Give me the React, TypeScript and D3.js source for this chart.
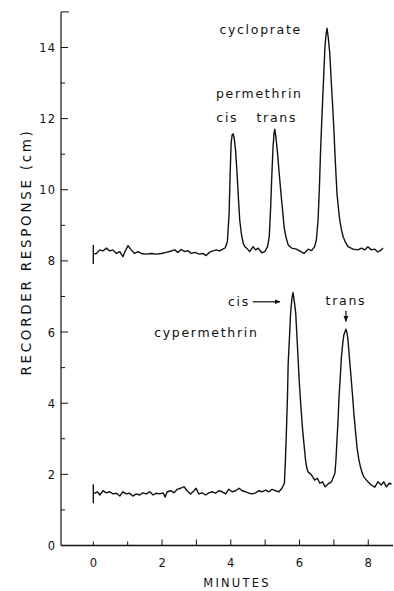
import React from 'react'
import { scaleLinear, line, curveLinear } from 'd3'

// minutes, recorder response (cm)
const topTrace: [number, number][] = [
  [0, 8.45], [0, 7.93], [0, 8.2], [0.09, 8.21], [0.19, 8.31], [0.28, 8.28], [0.38, 8.36],
  [0.48, 8.28], [0.57, 8.31], [0.67, 8.21], [0.77, 8.26], [0.86, 8.12], [0.93, 8.28],
  [1.01, 8.43], [1.1, 8.31], [1.2, 8.21], [1.3, 8.26], [1.4, 8.21], [1.54, 8.19],
  [1.69, 8.21], [1.83, 8.19], [1.98, 8.21], [2.12, 8.24], [2.27, 8.28], [2.37, 8.31],
  [2.46, 8.24], [2.56, 8.32], [2.66, 8.26], [2.75, 8.29], [2.85, 8.21], [2.95, 8.24],
  [3.09, 8.19], [3.19, 8.21], [3.28, 8.15], [3.38, 8.24], [3.48, 8.28], [3.58, 8.31],
  [3.67, 8.28], [3.77, 8.33], [3.84, 8.37], [3.9, 8.54], [3.95, 9.3], [3.98, 10.4],
  [4.01, 11.3], [4.04, 11.55], [4.07, 11.57], [4.1, 11.45], [4.14, 11.1], [4.18, 10.5],
  [4.22, 9.8], [4.26, 9.15], [4.31, 8.75], [4.36, 8.5], [4.41, 8.4], [4.46, 8.36],
  [4.55, 8.26], [4.65, 8.4], [4.72, 8.31], [4.8, 8.36], [4.9, 8.23], [4.99, 8.26],
  [5.07, 8.4], [5.12, 8.68], [5.16, 9.5], [5.19, 10.3], [5.23, 11.2], [5.26, 11.6],
  [5.28, 11.7], [5.31, 11.5], [5.36, 11.03], [5.41, 10.45], [5.46, 9.9], [5.51, 9.4],
  [5.55, 8.96], [5.61, 8.65], [5.67, 8.45], [5.77, 8.36], [5.91, 8.33], [6.04, 8.26],
  [6.13, 8.21], [6.25, 8.33], [6.35, 8.29], [6.44, 8.4], [6.49, 8.59], [6.54, 9.15],
  [6.58, 10.1], [6.61, 11.03], [6.65, 12.0], [6.69, 12.9], [6.74, 14.02], [6.77, 14.35],
  [6.8, 14.54], [6.84, 14.25], [6.88, 13.84], [6.92, 13.1], [6.96, 12.43], [7.0, 11.7],
  [7.03, 11.03], [7.06, 10.45], [7.09, 9.9], [7.13, 9.5], [7.17, 9.15], [7.22, 8.88],
  [7.27, 8.68], [7.34, 8.52], [7.41, 8.4], [7.56, 8.33], [7.7, 8.31], [7.8, 8.36],
  [7.9, 8.31], [7.99, 8.4], [8.09, 8.31], [8.19, 8.33], [8.28, 8.25], [8.38, 8.31],
  [8.43, 8.36],
]

const bottomTrace: [number, number][] = [
  [0, 1.72], [0, 1.2], [0, 1.45], [0.04, 1.47], [0.12, 1.51], [0.19, 1.42], [0.28, 1.54],
  [0.38, 1.48], [0.48, 1.51], [0.57, 1.45], [0.67, 1.47], [0.77, 1.39], [0.86, 1.51],
  [0.96, 1.45], [1.06, 1.47], [1.15, 1.39], [1.25, 1.45], [1.35, 1.42], [1.44, 1.48],
  [1.54, 1.45], [1.64, 1.51], [1.74, 1.42], [1.83, 1.47], [1.93, 1.45], [2.03, 1.48],
  [2.09, 1.36], [2.15, 1.51], [2.25, 1.54], [2.35, 1.48], [2.44, 1.58], [2.54, 1.61],
  [2.64, 1.65], [2.73, 1.54], [2.83, 1.45], [2.93, 1.54], [2.99, 1.61], [3.07, 1.45],
  [3.17, 1.48], [3.27, 1.42], [3.36, 1.48], [3.46, 1.51], [3.56, 1.47], [3.65, 1.54],
  [3.75, 1.51], [3.85, 1.45], [3.94, 1.58], [4.04, 1.51], [4.14, 1.54], [4.24, 1.61],
  [4.33, 1.54], [4.43, 1.51], [4.53, 1.47], [4.62, 1.45], [4.72, 1.48], [4.82, 1.54],
  [4.91, 1.51], [5.01, 1.56], [5.11, 1.51], [5.2, 1.58], [5.3, 1.54], [5.4, 1.51],
  [5.49, 1.61], [5.56, 1.75], [5.59, 2.4], [5.62, 3.25], [5.65, 4.2], [5.67, 5.12],
  [5.71, 5.9], [5.74, 6.53], [5.78, 6.95], [5.81, 7.11], [5.85, 6.85], [5.89, 6.53],
  [5.94, 5.6], [5.99, 4.65], [6.04, 3.9], [6.09, 3.25], [6.14, 2.75], [6.18, 2.36],
  [6.22, 2.15], [6.25, 2.07], [6.35, 1.98], [6.44, 1.84], [6.52, 1.89], [6.59, 1.75],
  [6.67, 1.79], [6.74, 1.65], [6.83, 1.73], [6.93, 1.79], [7.03, 2.03], [7.06, 2.4],
  [7.08, 2.78], [7.12, 3.5], [7.15, 4.18], [7.19, 4.8], [7.22, 5.31], [7.26, 5.7],
  [7.29, 5.92], [7.35, 6.08], [7.38, 5.98], [7.41, 5.78], [7.45, 5.3], [7.49, 4.84],
  [7.54, 4.25], [7.58, 3.72], [7.63, 3.2], [7.67, 2.78], [7.72, 2.45], [7.77, 2.22],
  [7.82, 2.05], [7.87, 1.93], [7.99, 1.79], [8.09, 1.7], [8.19, 1.64], [8.28, 1.79],
  [8.38, 1.7], [8.45, 1.79], [8.53, 1.65], [8.61, 1.75], [8.68, 1.73],
]

const xTicks = [0, 1, 2, 3, 4, 5, 6, 7, 8]
const xTickLabels = ['0', '2', '4', '6', '8']
const yMajorTicks = [0, 2, 4, 6, 8, 10, 12, 14]
const yMinorTicks = [1, 3, 5, 7, 9, 11, 13, 15]

// peak labels: [text, minutes, cm, anchor]
const peakLabels: [string, number, number, string][] = [
  ['cycloprate', 4.87, 14.38, 'middle'],
  ['permethrin', 4.83, 12.58, 'middle'],
  ['cis', 3.9, 11.91, 'middle'],
  ['trans', 5.34, 11.91, 'middle'],
  ['cis', 4.56, 6.73, 'end'],
  ['trans', 7.35, 6.76, 'middle'],
  ['cypermethrin', 3.29, 5.86, 'middle'],
]

const W = 394
const H = 591
const font = '"DejaVu Sans", sans-serif'

export default function App() {
  const x = scaleLinear().domain([-0.94, 8.72]).range([61, 393])
  const y = scaleLinear().domain([0, 15]).range([545.5, 11.9])

  const trace = line<[number, number]>()
    .x(d => x(d[0]))
    .y(d => y(d[1]))
    .curve(curveLinear)

  const ink = '#111'

  return (
    <svg width={W} height={H} style={{ position: 'absolute', left: 0, top: 0, background: '#fff' }}>
      <defs>
        <marker id="head" viewBox="0 0 10 10" refX="9" refY="5" markerWidth="5" markerHeight="5" orient="auto">
          <path d="M0,1 L10,5 L0,9 z" fill={ink} />
        </marker>
      </defs>

      {/* axes */}
      <line x1={x(-0.94)} x2={x(8.72)} y1={y(0)} y2={y(0)} stroke={ink} strokeWidth={1.3} />
      <line x1={x(-0.94)} x2={x(-0.94)} y1={y(0)} y2={y(15)} stroke={ink} strokeWidth={1.2} />

      {xTicks.map(t => (
        <line key={'xt' + t} x1={x(t)} x2={x(t)} y1={y(0)} y2={y(0) - (t < 2 ? 4 : 6)} stroke={ink} strokeWidth={1} />
      ))}
      {xTickLabels.map(l => (
        <text key={'xl' + l} x={x(+l)} y={567} textAnchor="middle" fontFamily={font} fontSize={11.5} fill={ink}>{l}</text>
      ))}

      {yMajorTicks.map(v => (
        <line key={'ym' + v} x1={x(-0.94)} x2={x(-0.94) + 7} y1={y(v)} y2={y(v)} stroke={ink} strokeWidth={1} />
      ))}
      {yMinorTicks.map(v => (
        <line key={'yn' + v} x1={x(-0.94)} x2={x(-0.94) + (v === 15 ? 8 : 4)} y1={y(v)} y2={y(v)} stroke={ink} strokeWidth={1} />
      ))}
      {yMajorTicks.map(v => (
        <text key={'yl' + v} x={56} y={y(v) + 4.5} textAnchor="end" fontFamily={font} fontSize={11.5} letterSpacing={1} fill={ink}>{v}</text>
      ))}

      <text x={237} y={587} textAnchor="middle" fontFamily={font} fontSize={11.5} letterSpacing={2.2} fill={ink}>MINUTES</text>
      <text transform="translate(31,252) rotate(-90)" textAnchor="middle" fontFamily={font} fontSize={13.5} letterSpacing={2.7} fill={ink}>
        RECORDER RESPONSE (cm)
      </text>

      {/* chromatogram traces */}
      <path d={trace(topTrace) || ''} fill="none" stroke={ink} strokeWidth={1.4} strokeLinejoin="round" />
      <path d={trace(bottomTrace) || ''} fill="none" stroke={ink} strokeWidth={1.4} strokeLinejoin="round" />

      {peakLabels.map(([t, m, v, a], i) => (
        <text key={'pl' + i} x={x(m)} y={y(v)} textAnchor={a} fontFamily={font} fontSize={12.5} letterSpacing={1.7} fill={ink}>{t}</text>
      ))}

      {/* arrows pointing at the cypermethrin isomers */}
      <line x1={x(4.64)} x2={x(5.43)} y1={y(6.85)} y2={y(6.85)} stroke={ink} strokeWidth={1.2} markerEnd="url(#head)" />
      <line x1={x(7.35)} x2={x(7.35)} y1={y(6.6)} y2={y(6.3)} stroke={ink} strokeWidth={1.2} markerEnd="url(#head)" />
    </svg>
  )
}
